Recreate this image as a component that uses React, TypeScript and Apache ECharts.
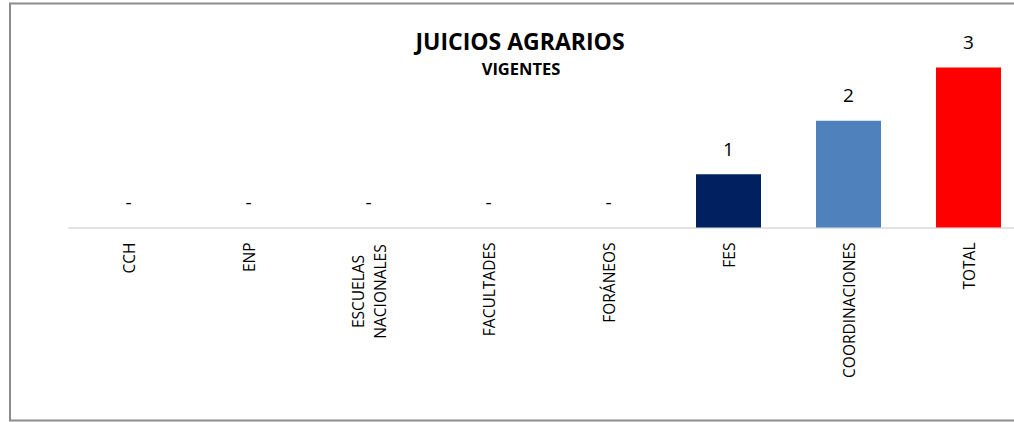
import React, { useEffect, useRef } from "react";
import * as echarts from "echarts";

const categories = ["CCH", "ENP", "ESCUELAS\nNACIONALES", "FACULTADES", "FORÁNEOS", "FES", "COORDINACIONES", "TOTAL"];
const values = [0, 0, 0, 0, 0, 1, 2, 3];
const barColors = ["#002060", "#002060", "#002060", "#002060", "#002060", "#002060", "#4F81BD", "#FF0000"];
const titleText = "JUICIOS AGRARIOS";
const subtitleText = "VIGENTES";

const FONT = "'Open Sans', sans-serif";

export default function App() {
  const ref = useRef<HTMLDivElement>(null);
  useEffect(() => {
    if (!ref.current) return;
    const chart = echarts.init(ref.current, null, { renderer: "svg" });
    chart.setOption({
      animation: false,
      backgroundColor: "#ffffff",
      textStyle: { fontFamily: FONT },
      grid: { left: 68.5, right: 21.5, top: 67.5, bottom: 194.5, containLabel: false },
      xAxis: {
        type: "category",
        data: categories,
        axisLine: { show: true, lineStyle: { color: "#d9d9d9", width: 1.5 } },
        axisTick: { show: false },
        axisLabel: {
          rotate: 90,
          margin: 15,
          fontSize: 15.5,
          color: "#000000",
          fontFamily: FONT,
          lineHeight: 22,
          interval: 0,
          formatter: (v: string) =>
            v.indexOf("\n") >= 0
              ? v
                  .split("\n")
                  .map((s) => "{c|" + s + "}")
                  .join("\n")
              : v,
          rich: {
            c: {
              width: 98,
              align: "center",
              fontSize: 15.5,
              lineHeight: 22,
              fontFamily: FONT,
              color: "#000000",
            },
          },
        },
      },
      yAxis: {
        type: "value",
        min: 0,
        max: 3,
        show: false,
        splitLine: { show: false },
      },
      series: [
        {
          type: "bar",
          data: values.map((v, i) => ({ value: v, itemStyle: { color: barColors[i] } })),
          barWidth: 65,
          label: {
            show: true,
            position: "top",
            distance: 16,
            fontSize: 19,
            color: "#000000",
            fontFamily: FONT,
            formatter: (p: any) => (p.value === 0 ? "-" : String(p.value)),
          },
        },
      ],
      graphic: [
        {
          type: "rect",
          shape: { x: 10, y: 3.5, width: 1100, height: 417 },
          style: { fill: "none", stroke: "#8c8c8c", lineWidth: 2 },
          silent: true,
        },
        {
          type: "text",
          x: 520,
          y: 41,
          style: {
            text: titleText,
            fontFamily: FONT,
            fontSize: 23,
            lineHeight: 26,
            fontWeight: "bold",
            fill: "#000000",
            textAlign: "center",
            textVerticalAlign: "middle",
          },
        },
        {
          type: "text",
          x: 521,
          y: 68.5,
          style: {
            text: subtitleText,
            fontFamily: FONT,
            fontSize: 16.5,
            lineHeight: 18,
            fontWeight: "bold",
            fill: "#000000",
            textAlign: "center",
            textVerticalAlign: "middle",
          },
        },
      ],
    });
    return () => chart.dispose();
  }, []);
  return (
    <div style={{ position: "fixed", left: 0, top: 0, width: 1014, height: 422, overflow: "hidden" }}>
      <div ref={ref} style={{ position: "absolute", left: 0, top: 0, width: 1050, height: 422 }} />
    </div>
  );
}
